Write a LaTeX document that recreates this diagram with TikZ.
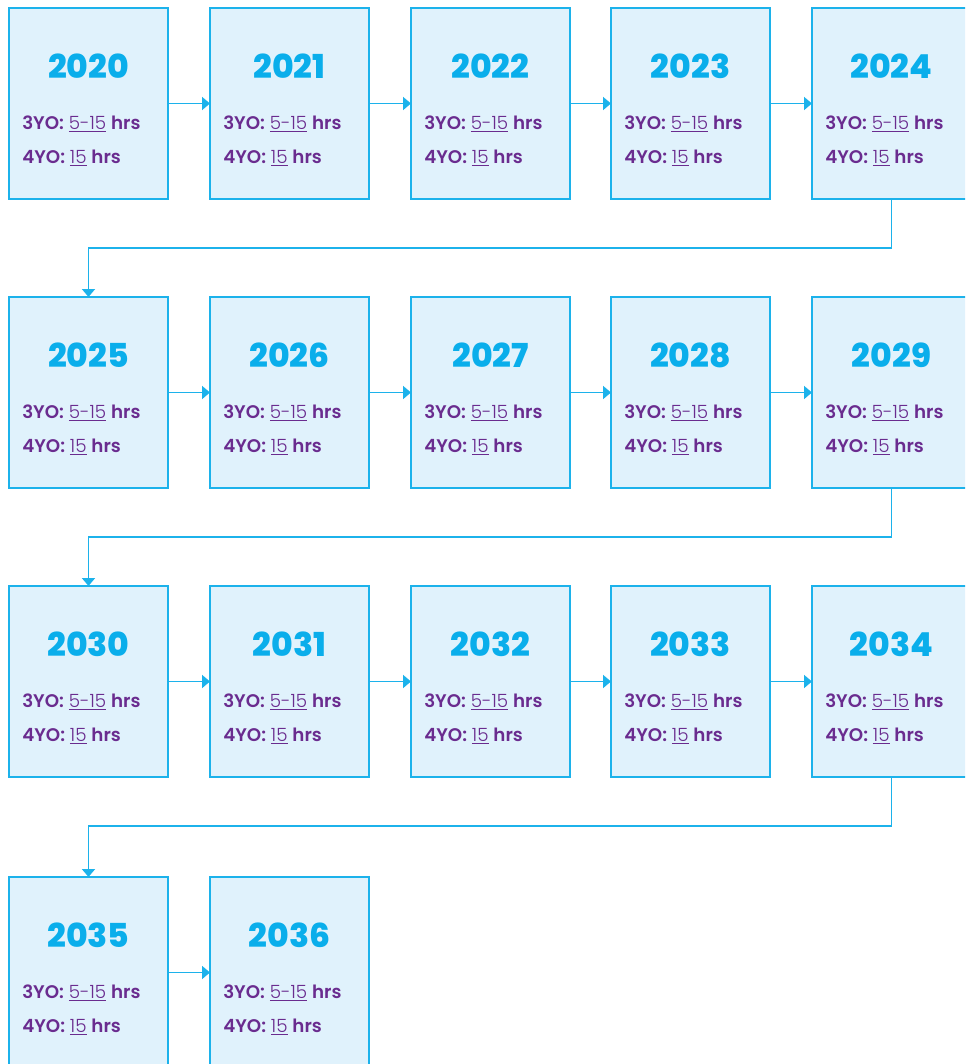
\documentclass[tikz,border=0pt]{standalone}
\usepackage{fontspec}
\setmainfont{Poppins}
\IfFontExistsTF{Poppins ExtraBold}{\newfontfamily\yearfont{Poppins ExtraBold}}{\newfontfamily\yearfont{Poppins}[FakeBold=1.5]}
\IfFontExistsTF{Poppins Light}{\newfontfamily\lightfont{Poppins Light}}{\newfontfamily\lightfont{Poppins}}
\IfFontExistsTF{Poppins SemiBold}{\newfontfamily\semifont{Poppins SemiBold}}{\newfontfamily\semifont{Poppins}[FakeBold=1]}
\usetikzlibrary{arrows.meta,calc}
\definecolor{boxblue}{HTML}{1CB2EB}
\definecolor{boxfill}{HTML}{E0F2FC}
\definecolor{yearblue}{HTML}{0AAEEB}
\definecolor{purp}{HTML}{6A2C8F}
\newcommand{\ulnum}[1]{\underline{\lightfont #1}}
\newcommand{\semib}[1]{{\semifont #1}}
\begin{document}
\begin{tikzpicture}[x=0.75pt,y=-0.75pt,
  box/.style={draw=boxblue, fill=boxfill, line width=1.3pt, inner sep=0pt, outer sep=0pt,
    minimum width=119.25pt, minimum height=143.25pt, anchor=north west},
  yeartxt/.style={text=yearblue, font=\fontsize{24.75}{28}\selectfont\yearfont, inner sep=0pt, anchor=base},
  info/.style={text=purp, font=\fontsize{13.7}{16}\selectfont, inner sep=0pt, anchor=base west},
  arr/.style={draw=boxblue, line width=1.3pt, -{Triangle[length=6pt,width=9.75pt]}}]
\useasboundingbox (0,0) rectangle (965,1064);
\clip (0,0) rectangle (965,1064);
\foreach \i in {0,...,16}{
  \pgfmathtruncatemacro\r{int(\i/5)}
  \pgfmathtruncatemacro\c{mod(\i,5)}
  \pgfmathsetmacro\L{{9,210,411,611,812}[\c]}
  \pgfmathsetmacro\T{{8,297,586,877}[\r]}
  \pgfmathtruncatemacro\Y{2020+\i}
  \node[box] (b\Y) at (\L,\T) {};
  \node[yeartxt] (y\Y) at ($(b\Y.north)+(0,70)$) {\Y};
  \node[info] (p\Y) at (\L+13,\T+121) {\semib{3YO:} \ulnum{5-15} \semib{hrs}};
  \node[info] (q\Y) at (\L+13,\T+155) {\semib{4YO:} \ulnum{15} \semib{hrs}};
}
\foreach \a/\b in {2020/2021,2021/2022,2022/2023,2023/2024,
                   2025/2026,2026/2027,2027/2028,2028/2029,
                   2030/2031,2031/2032,2032/2033,2033/2034,
                   2035/2036}{
  \draw[arr] (b\a.east) -- (b\b.west);
}
\foreach \a/\b in {2024/2025,2029/2030,2034/2035}{
  \draw[arr] (b\a.south) -- ++(0,49) -| (b\b.north);
}
\end{tikzpicture}
\end{document}
